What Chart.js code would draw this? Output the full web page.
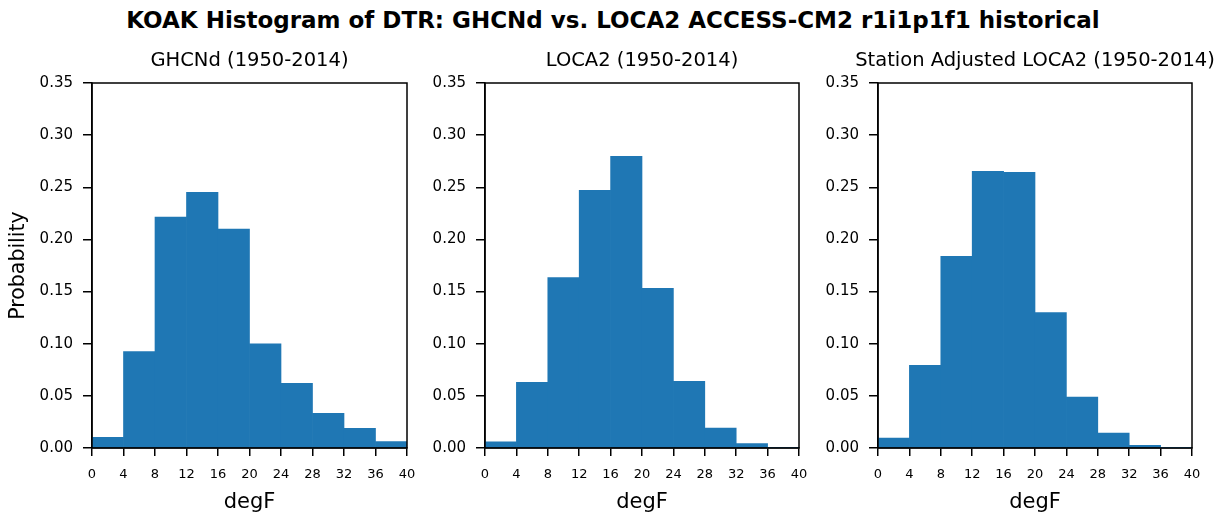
<!DOCTYPE html>
<html>
<head>
<meta charset="utf-8">
<title>KOAK DTR histograms</title>
<script src="https://cdn.jsdelivr.net/npm/chart.js@4.4.0/dist/chart.umd.min.js"></script>
<style>
  body { margin: 0; background: #fff; width: 1226px; height: 512px; position: relative; overflow: hidden; font-family: "DejaVu Sans", sans-serif; }
  #suptitle { position: absolute; top: 5px; left: 0; width: 1226px; text-align: center; font-weight: bold; font-size: 23px; line-height: 30px; color: #000; }
  .panel { position: absolute; top: 0; }
</style>
</head>
<body>
<div id="suptitle">KOAK Histogram of DTR: GHCNd vs. LOCA2 ACCESS-CM2 r1i1p1f1 historical</div>
<div class="panel" style="left:0"><canvas id="ghcnd" width="428" height="515"></canvas></div>
<div class="panel" style="left:420px"><canvas id="loca2" width="400" height="515"></canvas></div>
<div class="panel" style="left:820px"><canvas id="adjusted" width="406" height="515"></canvas></div>
<script>
// bin edges in degF, 4 degree bins
const binEdges = [0, 4, 8, 12, 16, 20, 24, 28, 32, 36, 40];
const yTicks = [0, 0.05, 0.10, 0.15, 0.20, 0.25, 0.30, 0.35];

// probability per bin
const ghcndProb    = [0.0102, 0.0924, 0.2215, 0.2452, 0.2100, 0.1000, 0.0620, 0.0332, 0.0189, 0.0061];
const loca2Prob    = [0.0058, 0.0630, 0.1633, 0.2471, 0.2797, 0.1531, 0.0639, 0.0192, 0.0042, 0.0005];
const adjustedProb = [0.0096, 0.0793, 0.1838, 0.2653, 0.2643, 0.1298, 0.0489, 0.0144, 0.0026, 0.0003];

const binCenters = binEdges.slice(0, -1).map((e, i) => (e + binEdges[i + 1]) / 2);

// closes the axes box (top + right spines) and puts the panel title
// centred over the plot, allowed to run wider than it
const frame = {
  id: 'frame',
  afterDraw(chart, args, opts) {
    const { ctx, chartArea: a } = chart;
    ctx.save();
    ctx.strokeStyle = '#000';
    ctx.lineWidth = 1.5;
    ctx.strokeRect(a.left, a.top, a.right - a.left, a.bottom - a.top);
    ctx.fillStyle = '#000';
    ctx.font = '19.5px "DejaVu Sans"';
    ctx.textAlign = 'center';
    ctx.textBaseline = 'middle';
    ctx.fillText(opts.text, (a.left + a.right) / 2, a.top - 22);
    ctx.restore();
  }
};

function histogram(id, title, values, yAxisWidth, rightPad, showYLabel) {
  return new Chart(document.getElementById(id), {
    type: 'bar',
    data: {
      datasets: [{
        data: binCenters.map((c, i) => ({ x: c, y: values[i] })),
        backgroundColor: '#1f77b4',
        borderWidth: 0,
        barPercentage: 1,
        categoryPercentage: 1
      }]
    },
    options: {
      responsive: false,
      animation: false,
      layout: { padding: { top: 83, left: 0, right: rightPad, bottom: 0 } },
      plugins: {
        legend: { display: false },
        tooltip: { enabled: false },
        frame: { text: title }
      },
      scales: {
        x: {
          type: 'linear',
          min: binEdges[0],
          max: binEdges[binEdges.length - 1],
          offset: false,
          afterBuildTicks: s => { s.ticks = binEdges.map(v => ({ value: v })); },
          afterFit: s => { s.height = 67; },
          ticks: { color: '#000', font: { family: 'DejaVu Sans', size: 13 }, padding: 11, maxRotation: 0, autoSkip: false },
          grid: { offset: false, drawOnChartArea: false, tickLength: 8, color: '#000', lineWidth: 1.5 },
          border: { color: '#000', width: 1.5 },
          title: { display: true, text: 'degF', color: '#000', font: { family: 'DejaVu Sans', size: 21 }, padding: 0 }
        },
        y: {
          min: yTicks[0],
          max: yTicks[yTicks.length - 1],
          afterBuildTicks: s => { s.ticks = yTicks.map(v => ({ value: v })); },
          afterFit: s => { s.width = yAxisWidth; },
          ticks: { color: '#000', font: { family: 'DejaVu Sans', size: 15 }, padding: 10, callback: v => v.toFixed(2) },
          grid: { drawOnChartArea: false, tickLength: 9, color: '#000', lineWidth: 1.5 },
          border: { color: '#000', width: 1.5 },
          title: { display: showYLabel, text: 'Probability', color: '#000', font: { family: 'DejaVu Sans', size: 20.5 }, padding: { top: 6, bottom: 0 } }
        }
      }
    },
    plugins: [frame]
  });
}

histogram('ghcnd', 'GHCNd (1950-2014)', ghcndProb, 92, 21, true);
histogram('loca2', 'LOCA2 (1950-2014)', loca2Prob, 65, 21, false);
histogram('adjusted', 'Station Adjusted LOCA2 (1950-2014)', adjustedProb, 58, 34, false);
</script>
</body>
</html>
